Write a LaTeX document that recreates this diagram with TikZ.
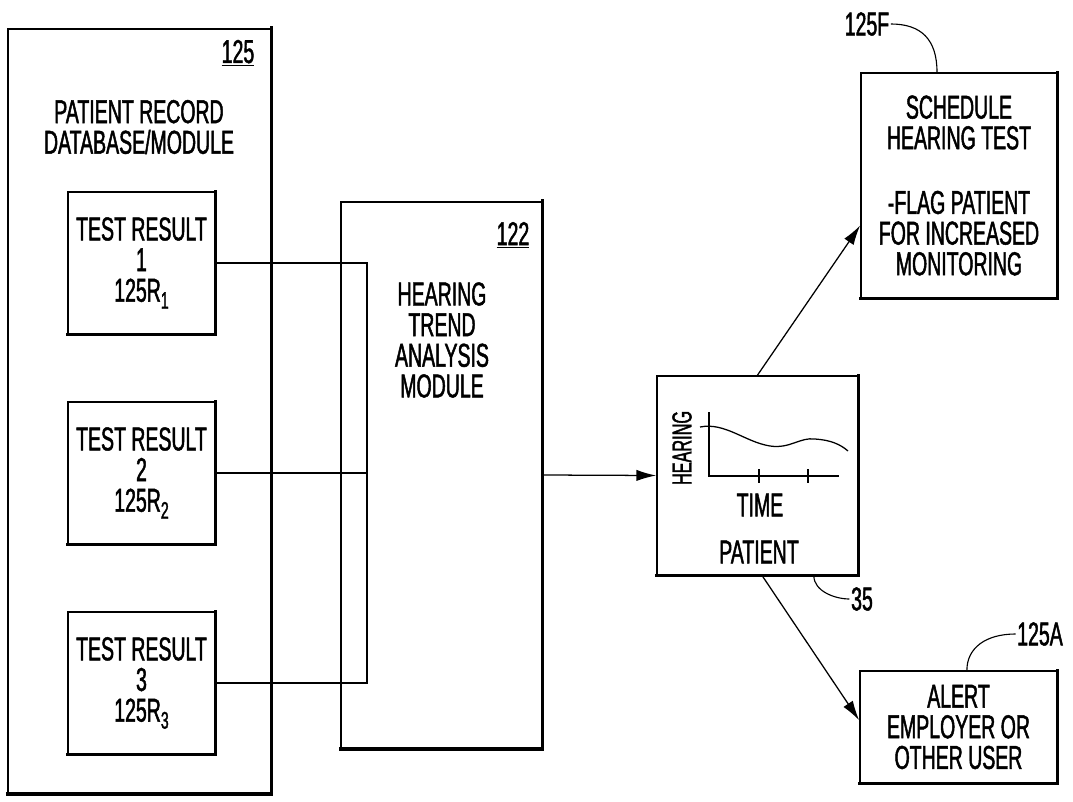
\documentclass[tikz,border=0pt]{standalone}
\usepackage{fontspec}
\setmainfont{Liberation Sans}[FakeStretch=0.59, FakeBold=1.4]
\usetikzlibrary{arrows.meta, positioning, calc}
\newcommand{\rsub}[1]{\raisebox{-0.4ex}{\fontsize{17}{17}\selectfont #1}}
\tikzset{
  shadowedge/.style={line width=2.3pt, line cap=rect, -},
  patbox/.style={draw, line width=1.2pt, inner sep=0pt, align=center,
    font=\fontsize{23.5}{21.8}\selectfont,
    append after command={
      (\tikzlastnode.north east) edge[shadowedge] (\tikzlastnode.south east)
      (\tikzlastnode.south east) edge[shadowedge] (\tikzlastnode.south west)}},
  boxtext/.style={align=center, inner sep=0pt, font=\fontsize{23.5}{21.8}\selectfont},
  reflabel/.style={inner sep=1pt, font=\fontsize{23.5}{21.8}\selectfont},
  link/.style={line width=0.9pt},
  flow/.style={line width=0.9pt, -{Latex[length=14pt, width=8pt]}},
  leader/.style={line width=0.8pt},
  plotline/.style={line width=0.9pt}
}
\begin{document}
\begin{tikzpicture}[x=0.025cm, y=-0.025cm]
  \useasboundingbox (0,0) rectangle (1073,802);

  % patient record database
  \node[patbox, minimum width=6.575cm, minimum height=19.1cm] (db) at (139.5,411) {};
  \node[reflabel] (dbnum) at (238,53) {\underline{125}};
  \node[boxtext] (dbtitle) at (139,127) {PATIENT RECORD\\DATABASE/MODULE};

  % test results
  \foreach \i/\y in {1/263, 2/473, 3/683}
    \node[patbox, minimum width=3.675cm, minimum height=3.55cm] (tr\i) at (141.5,\y)
      {TEST RESULT\\\i\\125R\rsub{\i}};

  % trend analysis module
  \node[patbox, minimum width=5.025cm, minimum height=13.65cm] (trend) at (441.5,475) {};
  \node[reflabel] (trendnum) at (513,235) {\underline{122}};
  \node[boxtext] (trendtitle) at (442,340) {HEARING\\TREND\\ANALYSIS\\MODULE};

  \coordinate (bus) at (367,0);
  \draw[link] (tr1.east) -- (tr1.east -| bus) -- (tr3.east -| bus) -- (tr3.east);
  \draw[link] (tr2.east) -- (tr2.east -| bus);

  % patient chart
  \node[patbox, minimum width=5.025cm, minimum height=4.975cm] (patient) at (757.5,475.5) {};
  \draw[plotline] (709,412) -- (709,476) -- (839,476);
  \foreach \x in {759,808}
    \draw[plotline] (\x,469) -- (\x,483);
  \draw[plotline] (700,427) .. controls (725,422) and (745,442) .. (770,446)
    .. controls (790,449) and (800,437) .. (815,439)
    .. controls (830,440) and (840,444) .. (848,451);
  \node[boxtext, font=\fontsize{19.6}{20}\selectfont, rotate=90] (ylab) at (682,448) {HEARING};
  \node[boxtext] (xlab) at (760,505) {TIME};
  \node[boxtext] (patlab) at (759,552) {PATIENT};

  % outcomes
  \node[patbox, minimum width=4.9cm, minimum height=5.625cm] (sched) at (959,185.5)
    {SCHEDULE\\HEARING TEST\\[0.85cm]-FLAG PATIENT\\FOR INCREASED\\MONITORING};
  \node[patbox, minimum width=4.925cm, minimum height=2.8cm] (alert) at (958.5,727)
    {ALERT\\EMPLOYER OR\\OTHER USER};

  \draw[flow] (trend.east) -- (patient.west);
  \draw[flow] (patient.north) -- ([yshift=-1cm]sched.west);
  \draw[flow] ([xshift=0.12cm]patient.south) -- ([yshift=0.17cm]alert.west);

  % reference numerals
  \node[reflabel] (num35) at (862,599) {35};
  \node[reflabel] (numF) at (867,24) {125F};
  \node[reflabel] (numA) at (1040,634) {125A};
  \draw[leader] ([xshift=-1.125cm]patient.south east) .. controls +(0,15) and +(-15,0) .. (num35.west);
  \draw[leader] (numF.east) .. controls +(30,0) and +(0,-33) .. ([xshift=-0.55cm]sched.north);
  \draw[leader] (numA.west) .. controls +(-30,0) and +(0,-22) .. ([xshift=0.21cm]alert.north);
\end{tikzpicture}
\end{document}
